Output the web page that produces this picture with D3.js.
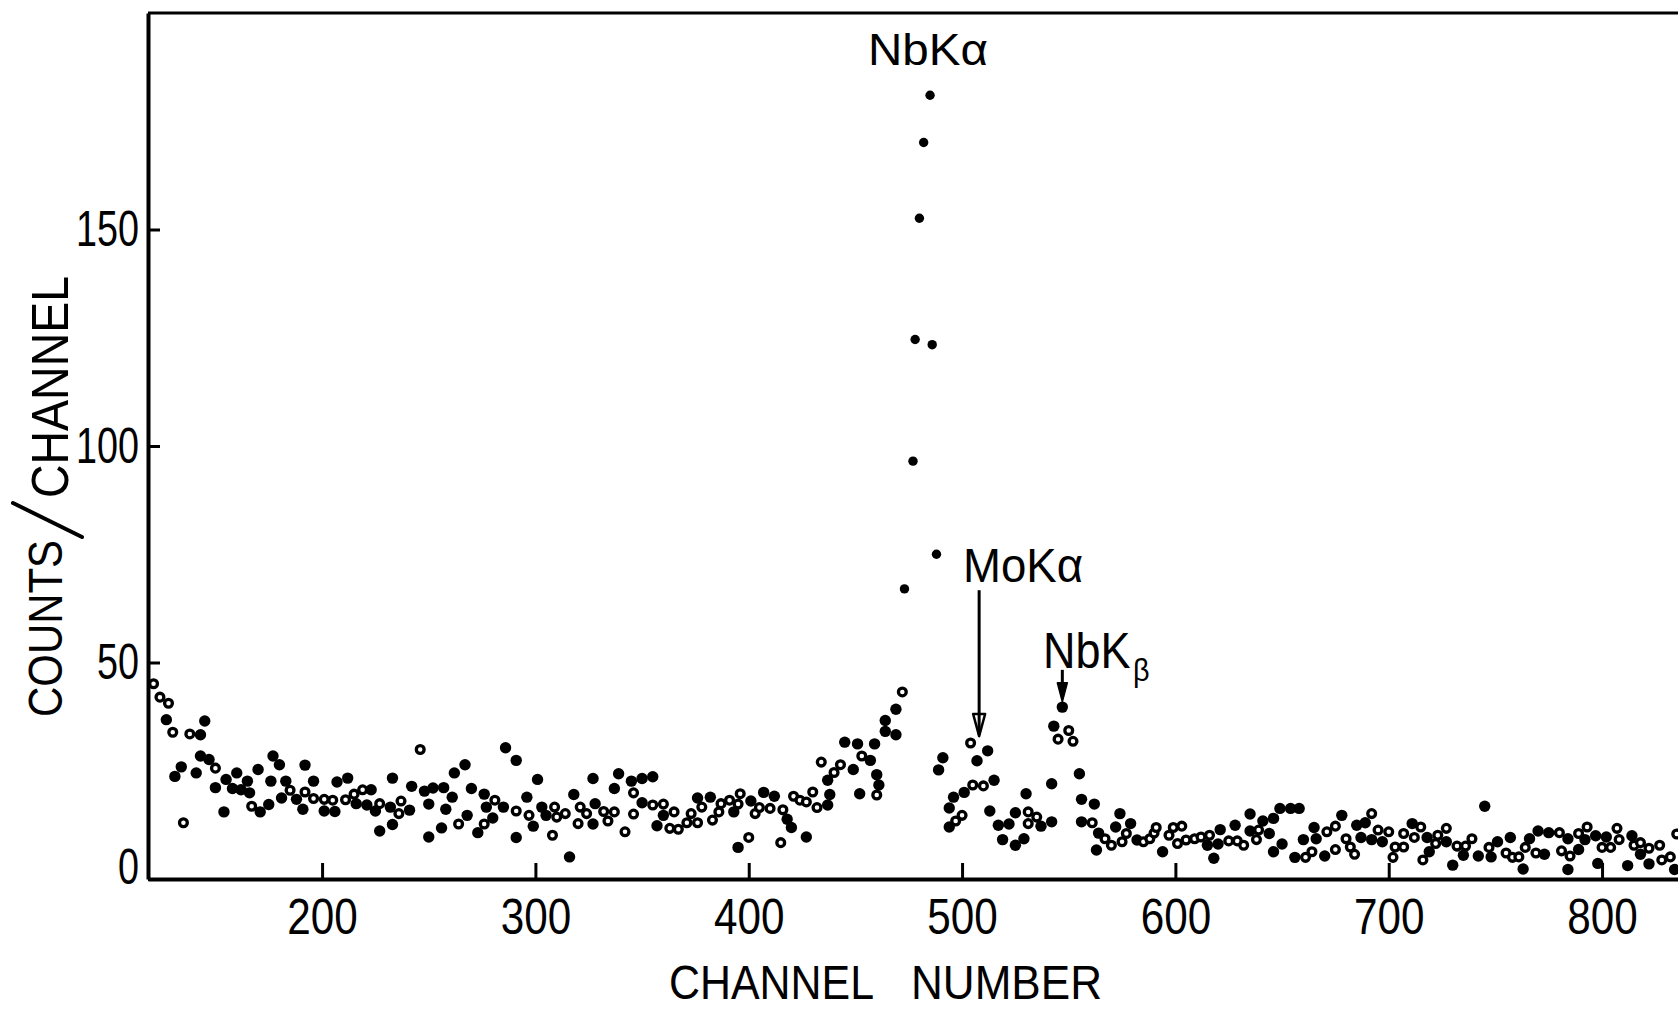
<!DOCTYPE html>
<html>
<head>
<meta charset="utf-8">
<script src="https://cdn.jsdelivr.net/npm/d3@7"></script>
<style>
  body { margin: 0; background: #fff; }
  text { font-family: "Liberation Sans", "DejaVu Sans", sans-serif; fill: #000; }
</style>
</head>
<body>
<svg id="chart" width="1678" height="1010"></svg>
<script>
// Tick values
const xTicks = [200, 300, 400, 500, 600, 700, 800];
const yTicks = [0, 50, 100, 150];

// Spectrum points [channel, counts] — filled markers
const filledPoints = [
  [127,36.8],[131,23.7],[134,25.9],[143,33.3],[145,36.5],[141,24.5],[143,28.4],[147,27.6],[150,21.1],[155,23.0],
  [154,15.5],[158,20.9],[160,24.5],[162,20.6],[165,22.6],[166,19.9],[170,25.3],[171,15.5],[175,17.2],[176,22.6],
  [177,28.4],[180,26.4],[181,18.7],[183,22.6],[188,18.4],[191,16.1],[192,26.3],[196,22.6],[201,15.7],[206,15.6],
  [207,22.4],[212,23.3],[216,17.4],[223,20.6],[221,17.1],[225,15.7],[227,11.1],[232,16.6],[233,23.3],[233,12.6],
  [241,15.9],[242,21.4],[248,20.3],[250,17.3],[250,9.7],[252,21.0],[256,11.8],[257,21.1],[258,16.1],[261,18.9],
  [262,24.5],[267,26.4],[268,14.7],[270,20.9],[273,10.7],[276,19.6],[277,16.6],[280,14.1],[285,16.6],[286,30.3],
  [291,27.4],[291,9.6],
  [296,18.9],[299,12.2],[301,23.0],[303,16.6],[305,14.7],[316,5.1],[318,19.5],[327,23.2],[327,12.7],[328,17.4],
  [337,20.9],[339,24.3],[345,22.6],[350,23.2],[350,17.6],[355,23.6],[357,12.3],[360,14.7],[376,18.7],[382,18.9],
  [393,15.5],[395,7.3],[401,18.0],[407,20.0],[412,19.1],[418,13.8],[420,11.9],[427,9.7],[437,22.8],[438,19.5],
  [437,17.1],[445,31.6],[449,25.3],[451,31.2],[452,19.7],[457,27.4],[459,31.2],[460,24.1],[461,21.7],[464,36.6],
  [464,34.1],[469,39.2],[469,33.3],
  [473,67.0],[477,96.5],[478,124.6],[480,152.6],[482,170.1],[485,181.0],[486,123.4],[488,75.0],
  [491,28.0],[489,25.2],[512,29.6],[507,27.3],[515,22.8],[501,20.0],[496,18.9],[494,16.4],[494,12.0],[513,15.7],
  [517,12.4],[522,12.7],[519,9.1],[525,7.8],[525,15.3],[530,19.7],[529,9.3],[537,12.2],[542,13.2],[542,22.0],
  [543,35.3],[547,39.7],[555,24.3],[556,18.4],[562,17.3],[556,13.2],[564,10.6],[563,6.7],[572,12.0],[574,15.1],
  [579,12.8],[582,9.0],[594,6.3],[615,7.8],[618,4.8],[621,11.4],
  [620,8.1],[628,12.4],[635,15.0],[635,11.1],[641,13.4],[644,10.5],[646,14.0],[646,6.3],[649,16.3],[650,8.1],
  [654,16.3],[656,5.0],[658,16.3],[660,9.1],[665,11.9],[666,9.3],[670,5.3],[678,14.7],[685,12.4],[687,9.6],
  [689,13.0],[692,9.1],[697,8.6],[711,12.8],[718,9.6],[719,6.3],[727,8.6],[730,3.2],
  [735,5.5],[742,5.3],[745,16.8],[748,5.1],[751,8.6],[757,9.6],[763,2.3],[766,9.3],[770,11.1],[773,5.7],
  [775,10.7],[784,9.3],[784,2.2],[789,6.8],[792,9.1],[797,10.0],[798,3.6],[802,9.7],[812,3.1],[814,10.0],
  [818,5.7],[822,3.5],[834,2.2]
];

// Spectrum points [channel, counts] — open markers
const openPoints = [
  [121,45.1],[124,42.0],[128,40.6],[130,33.9],[135,13.0],[138,33.5],[150,25.6],[167,16.8],[185,20.5],[192,20.1],
  [196,18.6],[201,18.4],[205,18.2],[211,18.3],[215,19.6],[219,20.6],[227,17.4],[236,15.1],[237,18.0],[246,29.9],
  [264,12.7],[276,12.7],[281,18.2],[291,15.7],
  [297,14.7],[308,10.1],[309,16.6],[310,14.3],[314,15.1],[320,12.8],[321,16.6],[324,15.1],[332,15.6],[334,13.4],
  [337,15.5],[342,10.9],[346,19.9],[346,15.0],[355,17.1],[360,17.3],[363,11.7],[365,15.5],[367,11.5],[371,13.0],
  [373,15.1],[376,13.0],[378,16.6],[383,13.6],[386,15.5],[387,17.4],[391,18.2],[395,17.3],[396,19.7],[400,9.6],
  [403,15.1],[405,16.5],[410,16.3],[415,8.4],[416,16.0],[421,19.1],[424,18.2],[427,17.8],[430,20.1],[432,16.5],
  [434,27.0],[440,24.6],[443,26.4],[453,28.4],[460,19.4],[472,43.2],
  [504,31.4],[510,21.5],[505,21.7],[500,14.7],[497,13.4],[531,15.5],[531,12.8],[535,14.3],[545,32.3],[550,34.3],
  [552,31.8],[561,13.0],[567,9.3],[570,7.8],[575,8.6],[577,10.5],[585,8.6],[588,9.3],[590,10.6],[591,11.9],
  [597,10.1],[599,11.9],[603,12.2],[601,8.2],[605,9.0],[609,9.3],[612,9.7],
  [616,10.1],[625,8.8],[629,8.8],[632,7.8],[638,9.1],[639,11.3],[661,5.0],[664,6.3],[671,10.9],[675,6.8],
  [675,12.2],[680,9.3],[682,7.4],[684,5.7],[692,15.1],[695,11.3],[700,10.9],[703,7.4],[702,5.0],[707,10.5],
  [707,7.4],[712,9.6],[715,12.0],[716,4.4],[722,8.2],[723,10.1],[727,11.7],[732,7.6],
  [736,7.6],[739,9.3],[747,7.3],[755,6.0],[758,5.0],[761,5.1],[764,7.3],[769,6.0],[780,10.7],[781,6.5],
  [785,5.3],[789,10.5],[793,12.0],[800,7.3],[804,7.3],[807,11.7],[808,9.1],[815,7.8],[818,8.4],[822,7.1],
  [827,7.8],[828,4.4],[832,5.1],[835,10.4]
];

// Peak annotation texts
const peakNames = { nbKa: "NbKα", moKa: "MoKα", nbKbMain: "NbK", nbKbSub: "β" };

const svg = d3.select("#chart");

const x = d3.scaleLinear().domain([118.4, 835.6]).range([148, 1678]);
const y = d3.scaleLinear().domain([0, 200]).range([879, 13]);

// top frame line
svg.append("line")
  .attr("x1", x.range()[0]).attr("x2", x.range()[1] + 2)
  .attr("y1", y(200)).attr("y2", y(200))
  .attr("stroke", "#000").attr("stroke-width", 3);

// x axis with inward ticks
const gx = svg.append("g")
  .attr("transform", `translate(0,${y(0)})`)
  .call(d3.axisBottom(x).tickValues(xTicks).tickSize(-16).tickSizeOuter(0).tickPadding(19));
gx.select(".domain").attr("stroke-width", 4);
gx.selectAll(".tick line").attr("stroke-width", 3);
gx.selectAll(".tick text")
  .style("font-size", "50px")
  .attr("textLength", d => String(d).length * 23.5)
  .attr("lengthAdjust", "spacingAndGlyphs");

// y axis with inward ticks
const gy = svg.append("g")
  .attr("transform", `translate(${x(118.4)},0)`)
  .call(d3.axisLeft(y).tickValues(yTicks).tickSize(-12).tickSizeOuter(0).tickPadding(9));
gy.select(".domain").attr("stroke-width", 4);
gy.selectAll(".tick line").attr("stroke-width", 3);
gy.selectAll(".tick text")
  .style("font-size", "50px")
  .attr("textLength", d => String(d).length * 21)
  .attr("lengthAdjust", "spacingAndGlyphs")
  .attr("y", d => d === 0 ? -12 : 0);

// axis titles
svg.append("text")
  .attr("x", 669).attr("y", 999)
  .style("font-size", "48px")
  .attr("textLength", 205).attr("lengthAdjust", "spacingAndGlyphs")
  .text("CHANNEL");
svg.append("text")
  .attr("x", 911).attr("y", 999)
  .style("font-size", "48px")
  .attr("textLength", 191).attr("lengthAdjust", "spacingAndGlyphs")
  .text("NUMBER");

svg.append("text")
  .attr("transform", "translate(62,717) rotate(-90)")
  .style("font-size", "49px")
  .attr("textLength", 177).attr("lengthAdjust", "spacingAndGlyphs")
  .text("COUNTS");
svg.append("line")
  .attr("x1", 82).attr("y1", 537).attr("x2", 13).attr("y2", 503)
  .attr("stroke", "#000").attr("stroke-width", 4).attr("stroke-linecap", "round");
svg.append("text")
  .attr("transform", "translate(68,498) rotate(-90)")
  .style("font-size", "52px")
  .attr("textLength", 222).attr("lengthAdjust", "spacingAndGlyphs")
  .text("CHANNEL");

// data markers
svg.append("g").selectAll("circle")
  .data(filledPoints)
  .join("circle")
  .attr("cx", d => x(d[0]))
  .attr("cy", d => y(d[1]))
  .attr("r", d => d[1] > 60 ? 4.7 : 5.7)
  .attr("fill", "#000");

svg.append("g").selectAll("circle")
  .data(openPoints)
  .join("circle")
  .attr("cx", d => x(d[0]))
  .attr("cy", d => y(d[1]))
  .attr("r", 3.9)
  .attr("fill", "#fff")
  .attr("stroke", "#000")
  .attr("stroke-width", 3.3);

// peak labels
svg.append("text")
  .attr("x", x(484)).attr("y", y(188))
  .attr("text-anchor", "middle")
  .style("font-size", "44px")
  .attr("textLength", 120).attr("lengthAdjust", "spacingAndGlyphs")
  .text(peakNames.nbKa);

svg.append("text")
  .attr("x", x(528.6)).attr("y", y(68.6))
  .attr("text-anchor", "middle")
  .style("font-size", "48px")
  .attr("textLength", 120).attr("lengthAdjust", "spacingAndGlyphs")
  .text(peakNames.moKa);

// MoKα arrow: long shaft with open head
const moX = x(508);
svg.append("line")
  .attr("x1", moX).attr("x2", moX)
  .attr("y1", y(66.7)).attr("y2", y(33.3))
  .attr("stroke", "#000").attr("stroke-width", 3);
svg.append("path")
  .attr("d", `M${moX - 6},${y(38.1)} L${moX + 6},${y(38.1)} L${moX},${y(33.0)} Z`)
  .attr("fill", "none").attr("stroke", "#000").attr("stroke-width", 2.5)
  .attr("stroke-linejoin", "round");

// NbKβ label: one text element, β as a lowered subscript
const nbKb = svg.append("text")
  .attr("transform", `translate(${x(537.9)},${y(48.7)}) scale(0.9,1)`)
  .style("font-size", "50px");
nbKb.append("tspan").text(peakNames.nbKbMain);
nbKb.append("tspan")
  .attr("dx", 3).attr("dy", 13)
  .style("font-size", "32px")
  .text(peakNames.nbKbSub);

// NbKβ arrow: short shaft with filled head
const nbX = x(547);
svg.append("line")
  .attr("x1", nbX).attr("x2", nbX)
  .attr("y1", y(48.3)).attr("y2", y(44))
  .attr("stroke", "#000").attr("stroke-width", 3);
svg.append("path")
  .attr("d", `M${nbX - 5},${y(45.3)} L${nbX + 5},${y(45.3)} L${nbX},${y(40.9)} Z`)
  .attr("fill", "#000").attr("stroke", "#000").attr("stroke-width", 1.5)
  .attr("stroke-linejoin", "round");
</script>
</body>
</html>
